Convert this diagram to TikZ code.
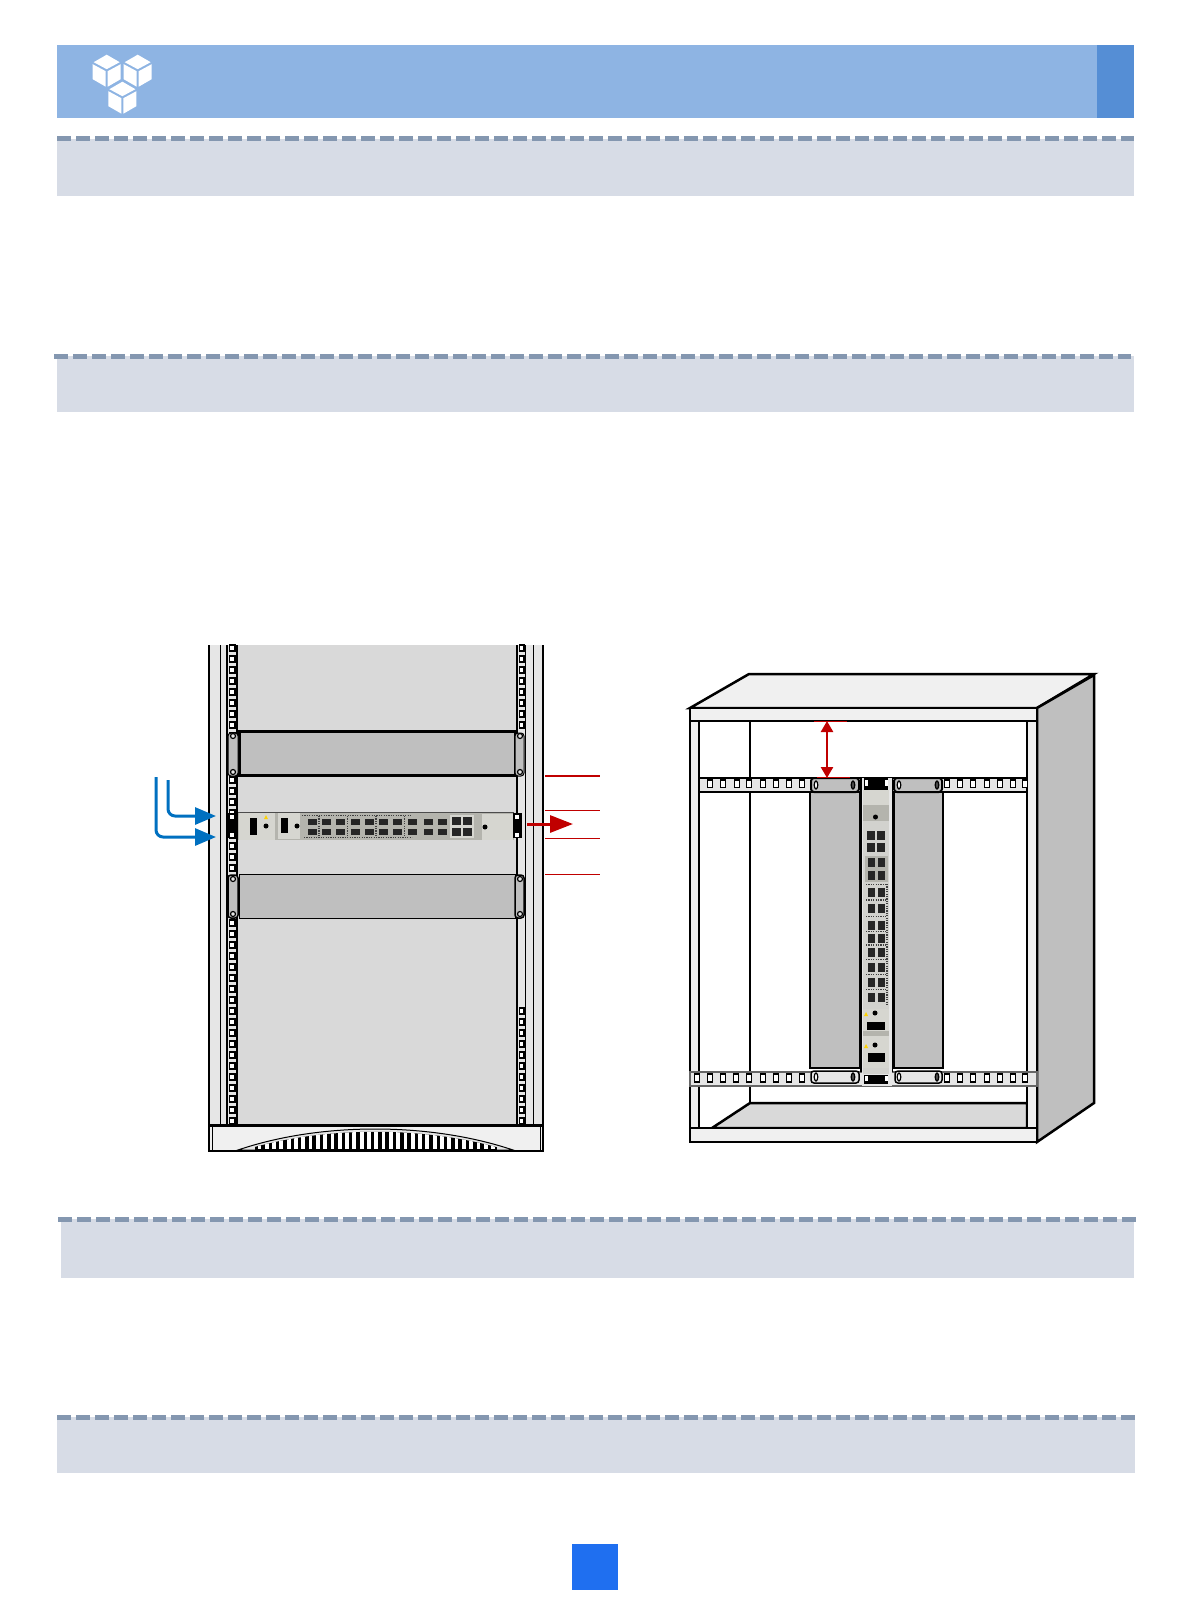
\documentclass[tikz,border=0pt]{standalone}
\usepackage{xcolor}
\usetikzlibrary{arrows.meta}

\definecolor{headband}{HTML}{8EB4E3}
\definecolor{headdark}{HTML}{558ED5}
\definecolor{bandgray}{HTML}{D7DCE6}
\definecolor{banddash}{HTML}{8497B0}
\definecolor{pagebox}{HTML}{1F6FF0}
\definecolor{arrowblue}{HTML}{0070C0}
\definecolor{arrowred}{HTML}{C00000}
\definecolor{panelgray}{HTML}{BFBFBF}
\definecolor{rackgray}{HTML}{D9D9D9}
\definecolor{sidegray}{HTML}{E6E6E6}
\definecolor{facewhite}{HTML}{F0F0F0}
\definecolor{devicebody}{HTML}{B4B4AD}
\definecolor{modulelight}{HTML}{D6D6D0}

\begin{document}
\begin{tikzpicture}[
    x=1pt, y=-1pt,
    band/.style={fill=bandgray},
    dashline/.style={draw=banddash, line width=5pt, dash pattern=on 14pt off 5pt},
    rackline/.style={draw=black, line width=2.5pt},
    thinline/.style={draw=black, line width=1pt},
    railhole/.style={draw=black, fill=white, line width=1.5pt},
    blankpanel/.style={draw=black, fill=panelgray},
    earpanel/.style={draw=black, fill=panelgray, line width=1pt, rounded corners=3pt},
    screwhole/.style={draw=black, fill=sidegray, line width=1.2pt},
    darkport/.style={fill=black!85},
    portdots/.style={draw=black!75, line width=1.2pt, dash pattern=on 1.2pt off 1.2pt},
    redtick/.style={draw=arrowred, line width=1pt},
    bluearrow/.style={draw=arrowblue, line width=3pt, rounded corners=7pt, -{Triangle[length=21pt,width=17pt]}},
    redarrow/.style={draw=arrowred, line width=3pt, -{Triangle[length=23pt,width=17pt]}},
    reddouble/.style={draw=arrowred, line width=2.5pt, {Triangle[length=11pt,width=12pt]}-{Triangle[length=11pt,width=12pt]}},
    cube/.pic={
        \fill[white] (0,-16) -- (-13,-8.5) -- (0,-1.5) -- (13,-8.5) -- cycle;
        \fill[white] (-14,-6.5) -- (-1,0.5) -- (-1,16) -- (-14,8.5) -- cycle;
        \fill[white] (14,-6.5) -- (1,0.5) -- (1,16) -- (14,8.5) -- cycle;
    },
]
\useasboundingbox (0,0) rectangle (1190,1616);

% ── Header ──
\fill[headband] (57,45) rectangle (1097,118);
\fill[headdark] (1097,45) rectangle (1134,118);
\pic at (106.7,70.7) {cube};
\pic at (137.7,70.7) {cube};
\pic at (122.4,97.7) {cube};

% ── Section bands ──
\fill[band] (57,139) rectangle (1134,196);
\draw[dashline] (57,139) -- (1134,139);
\fill[band] (57,356) rectangle (1134,412);
\draw[dashline] (54,356) -- (1131,356);
\fill[band] (61,1219) rectangle (1134,1278);
\draw[dashline] (58,1219) -- (1136,1219);
\fill[band] (57,1417) rectangle (1135,1473);
\draw[dashline] (57,1417) -- (1136,1417);

% ── Page box ──
\fill[pagebox] (572,1544) rectangle (618,1590);

% ── Left rack ──
\fill[rackgray] (237,645) rectangle (517,1125);
\fill[sidegray] (209,645) rectangle (237,1125);
\fill[sidegray] (517,645) rectangle (543,1125);
\draw[rackline] (209,645) -- (209,1125);
\draw[thinline] (220,645) -- (220,1125);
\draw[rackline] (227,645) -- (227,1125);
\draw[rackline] (237,645) -- (237,1125);
\draw[rackline] (517,645) -- (517,1125);
\draw[thinline] (525,645) -- (525,1125);
\draw[thinline] (533,645) -- (533,1125);
\draw[rackline] (543,645) -- (543,1125);

% rail holes
\foreach \y in {648,659,...,1121}
    \draw[railhole] (229.5,\y-2.8) rectangle (235,\y+2.8);
\foreach \y in {648,659,...,725}
    \draw[railhole] (519.5,\y-2.8) rectangle (524,\y+2.8);
\foreach \y in {1011,1022,...,1121}
    \draw[railhole] (519.5,\y-2.8) rectangle (524,\y+2.8);

% ── Blank panels ──
\draw[blankpanel, line width=3pt] (239,731) rectangle (515,775);
\draw[earpanel] (228,733) rectangle (238,776);
\draw[earpanel] (515,733) rectangle (524,776);
\draw[blankpanel, line width=1pt] (239,874) rectangle (515,918);
\draw[earpanel, line width=1.5pt] (228,875) rectangle (238,918);
\draw[earpanel, line width=1.5pt] (515,875) rectangle (524,918);
\foreach \x/\y in {233/736,233/772,233/879,233/914,520/736,520/772,520/879,520/914}
    \draw[screwhole] (\x,\y) circle (2.5);

% ── Horizontal device ──
\fill[devicebody] (238,813) rectangle (514,840);
\draw[black!70, line width=0.8pt] (238,812.5) -- (514,812.5);
\fill[black] (227,813) rectangle (237,838);
\fill[black] (513,813) rectangle (522,838);
\foreach \x/\y in {232,517}{
    \fill[white] (\x-2,815) rectangle (\x+2,819);
    \fill[white] (\x-2,833) rectangle (\x+2,837);
}
\fill[modulelight] (239,813) rectangle (275,840);
\fill[modulelight] (278,813) rectangle (300,839);
\fill[modulelight] (482,814) rectangle (513,840);
\fill[black] (250,818) rectangle (257,835);
\fill[black] (281,818) rectangle (288,833);
\fill[black] (266,826) circle (2.5);
\fill[black] (297,826) circle (2.5);
\fill[black] (485,827) circle (2.5);
\fill[yellow!70!orange] (264,819) -- (268,819) -- (266,815) -- cycle;
\draw[portdots] (302,815.5) -- (412,815.5);
\draw[portdots] (304,837.5) -- (412,837.5);
\foreach \x in {312,326,340,355,369,383,397,412,428,442}{
    \fill[darkport] (\x-4.5,819) rectangle (\x+4.5,825);
    \fill[darkport] (\x-4.5,829) rectangle (\x+4.5,835);
}
\foreach \x in {319,347.5,376,404.5}
    \draw[portdots] (\x,816) -- (\x,837);
\fill[modulelight] (450,815) rectangle (474,838);
\foreach \x in {456,467}{
    \fill[darkport] (\x-4.5,817) rectangle (\x+4.5,825);
    \fill[darkport] (\x-4.5,828) rectangle (\x+4.5,836);
}

% ── Rack base ──
\fill[facewhite] (209,1125) rectangle (543,1151);
\filldraw[draw=black, fill=sidegray, line width=1pt]
    (238,1150) .. controls (320,1122) and (430,1122) .. (513,1150) -- cycle;
\begin{scope}
    \clip (238,1152) .. controls (320,1125) and (430,1125) .. (513,1152) -- cycle;
    \fill[black] (255,1125) rectangle (497,1151);
    \foreach \x in {257.5,264.8,...,495}
        \fill[white] (\x,1125) rectangle (\x+3.8,1149);
\end{scope}
\draw[line width=3pt] (208,1125) -- (544,1125);
\draw[line width=2.5pt] (208,1151) -- (544,1151);
\draw[rackline] (209,1125) -- (209,1151);
\draw[rackline] (543,1125) -- (543,1151);
\draw[thinline] (212,1125) -- (212,1151);
\draw[thinline] (540,1125) -- (540,1151);

% ── Blue arrows ──
\coordinate (powerstartA) at (168,780);
\coordinate (powerendA) at (216,816);
\coordinate (powerstartB) at (156,777);
\coordinate (powerendB) at (216,837);
\draw[bluearrow] (powerstartA) |- (powerendA);
\draw[bluearrow] (powerstartB) |- (powerendB);

% ── Red arrow and clearance lines ──
\coordinate (airstart) at (527,824);
\coordinate (airend) at (573,824);
\draw[redarrow] (airstart) -- (airend);
\draw[arrowred, line width=2pt] (545,776) -- (600,776);
\draw[redtick] (545,810) -- (600,810);
\draw[redtick] (545,838) -- (600,838);
\draw[redtick] (545,874) -- (600,874);

% ── Right cabinet ──
\filldraw[rackline, fill=facewhite] (690,708) -- (749,674) -- (1094,674) -- (1037,708) -- cycle;
\filldraw[rackline, fill=panelgray] (1037,708) -- (1094,675) -- (1094,1103) -- (1037,1142) -- cycle;
\draw[thinline, line width=1.5pt] (750,721) -- (750,1103);

% floor
\filldraw[rackline, fill=rackgray] (712,1128) -- (750,1103) -- (1027,1103) -- (1027,1128) -- cycle;

% posts
\filldraw[rackline, fill=facewhite] (690,721) rectangle (699,1128);
\filldraw[rackline, fill=facewhite] (1027,721) rectangle (1037,1128);

% top and bottom bars
\filldraw[rackline, fill=facewhite] (690,708) rectangle (1037,721);
\filldraw[rackline, fill=facewhite] (690,1128) rectangle (1037,1142);

% rails
\filldraw[draw=black, fill=sidegray, line width=1.2pt] (699,778) rectangle (1027,792);
\filldraw[draw=black!60, fill=sidegray, line width=1.2pt] (690,1072) rectangle (1037,1086);
\foreach \x in {710,723,737,749,763,776,789,802,947,960,973,987,1000,1013,1025}
    \draw[railhole, line width=1.6pt] (\x-2.5,780) rectangle (\x+2.5,787.5);
\foreach \x in {697,710,723,736,749,763,776,789,802,947,960,973,987,1000,1013,1025}
    \draw[railhole, line width=1.6pt] (\x-2.5,1074) rectangle (\x+2.5,1082);

% filler panels
\filldraw[blankpanel, line width=2.5pt] (810,792) rectangle (860,1068);
\filldraw[blankpanel, line width=2.5pt] (894,792) rectangle (943,1068);
\filldraw[earpanel, line width=2pt] (811,778) rectangle (859,792);
\filldraw[earpanel, line width=2pt] (894,778) rectangle (942,792);
\filldraw[earpanel, line width=1.5pt, fill=sidegray] (811,1071) rectangle (859,1083);
\filldraw[earpanel, line width=1.5pt, fill=sidegray] (895,1071) rectangle (942,1083);
\foreach \x in {816,899}{
    \draw[screwhole, fill=white] (\x,785) ellipse (1.8 and 4);
    \draw[screwhole, fill=white] (\x,1077) ellipse (1.8 and 4);
}
\foreach \x in {853,937}{
    \draw[screwhole, fill=black!70] (\x,785) ellipse (1.8 and 4);
    \draw[screwhole, fill=black!70] (\x,1077) ellipse (1.8 and 4);
}

% ── Vertical device ──
\fill[sidegray] (862,778) rectangle (892,1086);
\draw[line width=2.5pt] (861,778) -- (861,1072);
\draw[thinline] (892,778) -- (892,1072);
\fill[devicebody!60!white] (863,790) rectangle (889,1074);
\fill[black] (864,778) rectangle (888,790);
\fill[black] (864,1075) rectangle (888,1084);
\foreach \x in {866,886}{
    \fill[white] (\x-1.5,780) rectangle (\x+1.5,786);
    \fill[white] (\x-1.5,1076) rectangle (\x+1.5,1081);
}
\fill[modulelight] (863,790) rectangle (889,805);
\fill[devicebody] (863,805) rectangle (889,821);
\fill[black] (875.5,817) circle (2.5);
\foreach \x in {871,881}{
    \fill[darkport] (\x-4,831) rectangle (\x+4,840);
    \fill[darkport] (\x-4,843) rectangle (\x+4,852);
}
\fill[devicebody] (865,856) rectangle (888,882);
\foreach \y in {862,875,892,908,925,938,952,967,982,997}{
    \fill[darkport] (867.5,\y-4.5) rectangle (874.5,\y+4.5);
    \fill[darkport] (877.5,\y-4.5) rectangle (884.5,\y+4.5);
}
\foreach \y in {884.5,900,916.5,931.5,945,959.5,974.5,989.5}
    \draw[portdots] (866,\y) -- (886,\y);
\draw[portdots] (887,884) -- (887,1005);
\fill[modulelight] (863,1009) rectangle (889,1035);
\fill[modulelight] (863,1036) rectangle (889,1068);
\fill[devicebody] (863,1031) rectangle (889,1036);
\fill[black] (875,1013) circle (2.5);
\fill[black] (875,1045) circle (2.5);
\fill[black] (867,1022) rectangle (885,1030);
\fill[black] (868,1053) rectangle (885,1062);
\fill[yellow!70!orange] (864,1016) -- (868,1016) -- (866,1012) -- cycle;
\fill[yellow!70!orange] (864,1048) -- (868,1048) -- (866,1044) -- cycle;

% ── Clearance arrow ──
\coordinate (gaptop) at (827,721);
\coordinate (gapbottom) at (827,778);
\draw[reddouble] (gaptop) -- (gapbottom);
\draw[redtick] (814,721) -- (847,721);
\draw[redtick] (817,777.5) -- (850,777.5);

\end{tikzpicture}
\end{document}
